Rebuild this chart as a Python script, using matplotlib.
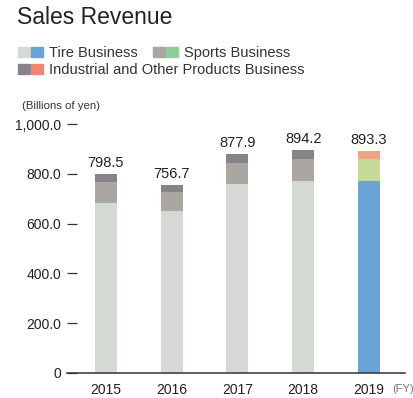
import matplotlib
matplotlib.use("Agg")
import matplotlib.pyplot as plt
from matplotlib.patches import Rectangle

# Sales revenue by segment (billions of yen)
years = ["2015", "2016", "2017", "2018", "2019"]
tire = [683.5, 651.0, 759.0, 771.0, 770.0]
sports = [82.0, 76.0, 84.0, 88.0, 89.0]
industrial = [33.0, 29.7, 34.9, 35.2, 34.3]
totals = [798.5, 756.7, 877.9, 894.2, 893.3]
yticks = [0, 200, 400, 600, 800, 1000]

# past years in greys, latest year in colour
grey = {"tire": "#d4d9d3", "sports": "#aaa6a1", "ind": "#86838b"}
color = {"tire": "#6ba3d9", "sports": "#c4da96", "ind": "#f2a284"}
legend_color = {"tire": "#6ba3d9", "sports": "#8fcd9d", "ind": "#ef8670"}

plt.rcParams["font.family"] = ["Liberation Sans", "DejaVu Sans"]

fig = plt.figure(figsize=(4.14, 3.98), dpi=100)
ax = fig.add_axes([67 / 414, 25 / 398, 338 / 414, 249 / 398])

x = list(range(len(years)))
last = len(years) - 1
for i in x:
    c = color if i == last else grey
    ax.bar(i, tire[i], width=0.335, color=c["tire"])
    ax.bar(i, sports[i], width=0.335, bottom=tire[i], color=c["sports"])
    ax.bar(i, industrial[i], width=0.335, bottom=tire[i] + sports[i],
           color=c["ind"])
    ax.text(i, totals[i] + 16, f"{totals[i]:.1f}", ha="center", va="bottom",
            fontsize=10.5, color="#222222")

ax.set_xlim(-0.593, 4.548)
ax.set_ylim(0, 1000)
ax.set_xticks(x)
ax.set_xticklabels(years, fontsize=10, color="#222222")
ax.tick_params(axis="x", length=0, pad=7)
ax.set_yticks(yticks)
ax.set_yticklabels(["0" if v == 0 else f"{v:,.1f}" for v in yticks],
                   fontsize=10, color="#222222")
ax.tick_params(axis="y", direction="in", length=7, width=0.9,
               color="#333333", pad=4)

for side in ("left", "right", "top"):
    ax.spines[side].set_visible(False)
ax.spines["bottom"].set_color("#333333")
ax.spines["bottom"].set_linewidth(1.1)
ax.set_axisbelow(False)

fig.text(17 / 414, 1 - 18 / 398, "Sales Revenue", fontsize=16.5,
         color="#222222", va="center", ha="left")
fig.text(22 / 414, 1 - 106 / 398, "(Billions of yen)", fontsize=8.2,
         color="#333333", va="center", ha="left")
fig.text(392 / 414, 1 - 389 / 398, "(FY)", fontsize=8, color="#777777",
         va="center", ha="left")

# two-swatch legend: grey for past years, colour for the latest year
rows = [
    (18, 47, "tire", "Tire Business"),
    (153, 47, "sports", "Sports Business"),
    (18, 64, "ind", "Industrial and Other Products Business"),
]
for px, py, key, label in rows:
    for k, col in enumerate((grey[key], legend_color[key])):
        fig.add_artist(Rectangle(((px + 13 * k) / 414, 1 - (py + 10) / 398),
                                 12 / 414, 10 / 398, color=col,
                                 transform=fig.transFigure))
    fig.text((px + 31) / 414, 1 - (py + 6) / 398, label, fontsize=10.5,
             color="#333333", va="center", ha="left")

fig.savefig("out.png", dpi=100)
